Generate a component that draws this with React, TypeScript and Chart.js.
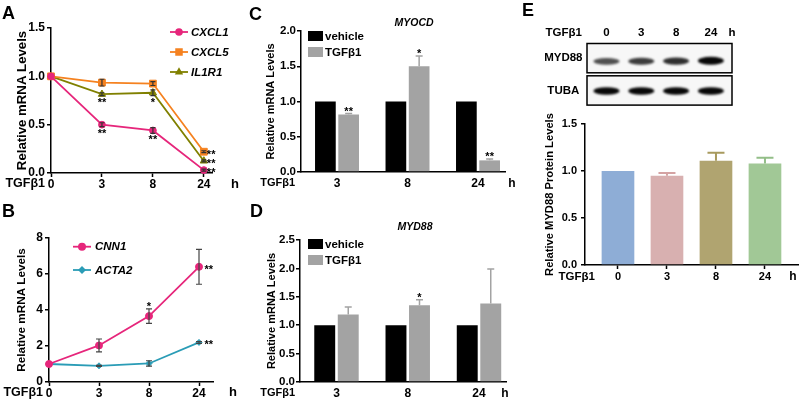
import React, { useEffect, useRef } from 'react';
import { Chart, registerables } from 'chart.js';

Chart.register(...registerables);

const FAMILY = '"Liberation Sans", Arial, Helvetica, sans-serif';
Chart.defaults.font.family = FAMILY;
Chart.defaults.color = '#000';

// ---------------- data ----------------
const timeLabels = ['0', '3', '8', '24'];
const treatLabels = ['3', '8', '24'];

// Panel A
const cxcl1 = [1.0, 0.5, 0.44, 0.03];
const cxcl1Err = [0, 0.02, 0.03, 0.01];
const cxcl1Sig = ['', '**', '**', '**'];
const cxcl5 = [1.0, 0.935, 0.925, 0.22];
const cxcl5Err = [0, 0.035, 0.02, 0.01];
const cxcl5Sig = ['', '', '', '**'];
const il1r1 = [1.0, 0.815, 0.83, 0.125];
const il1r1Err = [0, 0.015, 0.03, 0.01];
const il1r1Sig = ['', '**', '*', '**'];

// Panel B
const cnn1 = [1.0, 2.03, 3.66, 6.4];
const cnn1Err = [0, 0.36, 0.4, 0.97];
const cnn1Sig = ['', '', '*', '**'];
const acta2 = [1.0, 0.9, 1.03, 2.2];
const acta2Err = [0, 0.03, 0.15, 0.05];
const acta2Sig = ['', '', '', '**'];

// Panel C
const myocdVehicle = [1, 1, 1];
const myocdTgf = [0.815, 1.5, 0.165];
const myocdTgfErr = [0.015, 0.145, 0.02];
const myocdSig = ['**', '*', '**'];

// Panel D
const myd88Vehicle = [1, 1, 1];
const myd88Tgf = [1.19, 1.35, 1.38];
const myd88TgfErr = [0.13, 0.1, 0.61];
const myd88Sig = ['', '*', ''];

// Panel E
const blotRows = ['MYD88', 'TUBA'];
const myd88BandIntensity = [0.7, 0.78, 0.84, 1.0];
const tubaBandIntensity = [1.0, 1.0, 1.0, 1.0];
const proteinLevels = [1.0, 0.95, 1.11, 1.08];
const proteinErr = [0, 0.03, 0.085, 0.06];

// ---------------- styles ----------------
const PINK = '#E6267B';
const ORANGE = '#F58220';
const OLIVE = '#808000';
const TEAL = '#2A9CB6';
const GREY = '#A3A3A3';
const E_COLORS = ['#8EADD6', '#D8B0B0', '#B0A470', '#A1C896'];
const E_ERR_COLORS = ['#8EADD6', '#D4A3A3', '#A89A5E', '#93BE88'];

const font = (size: number, italic = false) => ({
  family: FAMILY,
  size,
  weight: 'bold' as const,
  style: (italic ? 'italic' : 'normal') as any,
});
const cssFont = (size: number, italic = false) => `${italic ? 'italic ' : ''}bold ${size}px ${FAMILY}`;

function yAxis(o: any) {
  return {
    min: o.min,
    max: o.max,
    ticks: {
      stepSize: o.step,
      callback: (v: number) => Number(v).toFixed(o.dec),
      font: font(o.tickSize),
      padding: o.tickPad,
      color: '#000',
    },
    grid: {
      display: true,
      drawOnChartArea: false,
      drawTicks: true,
      tickLength: 4,
      tickWidth: 1.5,
      tickColor: '#000',
      color: '#000',
      lineWidth: 1.5,
    },
    border: { display: true, color: '#000', width: 1.5 },
    title: {
      display: true,
      text: o.title,
      font: font(o.titleSize),
      color: '#000',
      padding: { top: o.titleCenter - (o.titleSize * 1.2) / 2, bottom: 0 },
    },
    afterFit: (s: any) => {
      s.width = o.width;
    },
  };
}

function xAxis(labels: string[], min: number, max: number, height: number, tickLen: number, pad: number, size: number) {
  return {
    type: 'linear',
    min,
    max,
    bounds: 'data',
    offset: false,
    afterBuildTicks: (s: any) => {
      s.ticks = labels.map((_, i) => ({ value: i }));
    },
    ticks: {
      callback: (v: number) => labels[Math.round(v)] ?? '',
      font: font(size),
      padding: pad,
      maxRotation: 0,
      autoSkip: false,
      color: '#000',
    },
    grid: {
      display: tickLen > 0,
      offset: false,
      drawOnChartArea: false,
      drawTicks: tickLen > 0,
      tickLength: tickLen,
      tickColor: '#000',
      tickWidth: 1.5,
      color: '#000',
    },
    border: { display: true, color: '#000', width: 1.5 },
    afterFit: (s: any) => {
      s.height = height;
    },
  };
}

function drawMarker(ctx: CanvasRenderingContext2D, style: string, x: number, y: number, r: number, color: string) {
  ctx.save();
  ctx.fillStyle = color;
  ctx.beginPath();
  if (style === 'circle') ctx.arc(x, y, r, 0, Math.PI * 2);
  else if (style === 'rect') {
    const s = r * Math.SQRT1_2;
    ctx.rect(x - s, y - s, 2 * s, 2 * s);
  } else if (style === 'triangle') {
    ctx.moveTo(x, y - r);
    ctx.lineTo(x + r * 0.866, y + r * 0.5);
    ctx.lineTo(x - r * 0.866, y + r * 0.5);
    ctx.closePath();
  } else {
    ctx.moveTo(x, y - r);
    ctx.lineTo(x + r, y);
    ctx.lineTo(x, y + r);
    ctx.lineTo(x - r, y);
    ctx.closePath();
  }
  ctx.fill();
  ctx.restore();
}

function errorBars(errs: (number[] | null)[], color: string | string[], cap: number, width: number, upOnly: boolean) {
  return {
    id: 'errorBars',
    afterDatasetsDraw(chart: any) {
      const ctx = chart.ctx;
      const ys = chart.scales.y;
      chart.data.datasets.forEach((ds: any, di: number) => {
        const e = errs[di];
        if (!e) return;
        const meta = chart.getDatasetMeta(di);
        meta.data.forEach((el: any, j: number) => {
          const err = e[j];
          if (!err) return;
          const v = ds.data[j].y;
          const x = el.x;
          const top = ys.getPixelForValue(v + err);
          const bot = upOnly ? ys.getPixelForValue(v) : ys.getPixelForValue(v - err);
          ctx.save();
          ctx.strokeStyle = Array.isArray(color) ? color[j] : color;
          ctx.lineWidth = width;
          ctx.beginPath();
          ctx.moveTo(x, top);
          ctx.lineTo(x, bot);
          ctx.moveTo(x - cap / 2, top);
          ctx.lineTo(x + cap / 2, top);
          if (!upOnly) {
            ctx.moveTo(x - cap / 2, bot);
            ctx.lineTo(x + cap / 2, bot);
          }
          ctx.stroke();
          ctx.restore();
        });
      });
    },
  };
}

function sigMarks(
  sigs: (string[] | null)[],
  errs: (number[] | null)[],
  place: (j: number, n: number) => string,
  size: number,
  rightDx: number
) {
  return {
    id: 'sigMarks',
    afterDatasetsDraw(chart: any) {
      const ctx = chart.ctx;
      const ys = chart.scales.y;
      chart.data.datasets.forEach((ds: any, di: number) => {
        const s = sigs[di];
        if (!s) return;
        const meta = chart.getDatasetMeta(di);
        meta.data.forEach((el: any, j: number) => {
          const txt = s[j];
          if (!txt) return;
          const v = ds.data[j].y;
          const e = (errs[di] && errs[di]![j]) || 0;
          const p = place(j, meta.data.length);
          ctx.save();
          ctx.font = cssFont(size);
          ctx.fillStyle = '#000';
          ctx.textBaseline = 'middle';
          if (p === 'right') {
            ctx.textAlign = 'left';
            ctx.fillText(txt, el.x + rightDx, el.y + 3);
          } else if (p === 'below') {
            ctx.textAlign = 'center';
            ctx.fillText(txt, el.x, ys.getPixelForValue(v - e) + 7);
          } else {
            ctx.textAlign = 'center';
            ctx.fillText(txt, el.x, ys.getPixelForValue(v + e) - 2);
          }
          ctx.restore();
        });
      });
    },
  };
}

function axisWords(leftText: string, leftSize: number, leftDx: number, rightText: string, rightSize: number, rightDx: number, dy: number) {
  return {
    id: 'axisWords',
    afterDraw(chart: any) {
      const { ctx, chartArea } = chart;
      ctx.save();
      ctx.fillStyle = '#000';
      ctx.textBaseline = 'middle';
      ctx.font = cssFont(leftSize);
      ctx.textAlign = 'right';
      ctx.fillText(leftText, chartArea.left + leftDx, chartArea.bottom + dy);
      ctx.font = cssFont(rightSize);
      ctx.textAlign = 'center';
      ctx.fillText(rightText, chartArea.right + rightDx, chartArea.bottom + dy);
      ctx.restore();
    },
  };
}

function lineLegend(x1: number, x2: number, tx: number, ys: number[], size: number, radii: number[]) {
  return {
    id: 'lineLegend',
    afterDraw(chart: any) {
      const ctx = chart.ctx;
      chart.data.datasets.forEach((ds: any, i: number) => {
        const y = ys[i];
        ctx.save();
        ctx.strokeStyle = ds.borderColor;
        ctx.lineWidth = 1.8;
        ctx.beginPath();
        ctx.moveTo(x1, y);
        ctx.lineTo(x2, y);
        ctx.stroke();
        drawMarker(ctx, ds.pointStyle, (x1 + x2) / 2, y, radii[i], ds.borderColor);
        ctx.fillStyle = '#000';
        ctx.font = cssFont(size, true);
        ctx.textAlign = 'left';
        ctx.textBaseline = 'middle';
        ctx.fillText(ds.label, tx, y + 0.5);
        ctx.restore();
      });
    },
  };
}

function boxLegend(bx: number, bw: number, bh: number, tx: number, ys: number[], size: number) {
  return {
    id: 'boxLegend',
    afterDraw(chart: any) {
      const ctx = chart.ctx;
      chart.data.datasets.forEach((ds: any, i: number) => {
        const y = ys[i];
        ctx.save();
        ctx.fillStyle = ds.backgroundColor;
        ctx.fillRect(bx, y - bh / 2, bw, bh);
        ctx.fillStyle = '#000';
        ctx.font = cssFont(size);
        ctx.textAlign = 'left';
        ctx.textBaseline = 'middle';
        ctx.fillText(ds.label, tx, y + 0.5);
        ctx.restore();
      });
    },
  };
}

function titleText(text: string, x: number, y: number, size: number) {
  return {
    id: 'titleText',
    afterDraw(chart: any) {
      const ctx = chart.ctx;
      ctx.save();
      ctx.fillStyle = '#000';
      ctx.font = cssFont(size, true);
      ctx.textAlign = 'center';
      ctx.textBaseline = 'middle';
      ctx.fillText(text, x, y);
      ctx.restore();
    },
  };
}

const lineDs = (label: string, vals: number[], color: string, pointStyle: string, radius: number) => ({
  label,
  data: vals.map((v, i) => ({ x: i, y: v })),
  borderColor: color,
  backgroundColor: color,
  pointBackgroundColor: color,
  pointBorderColor: color,
  pointStyle,
  pointRadius: radius,
  pointBorderWidth: 1,
  borderWidth: 1.8,
  tension: 0,
  clip: false,
});

const barDs = (label: string, vals: number[], color: any) => ({
  label,
  data: vals.map((v, i) => ({ x: i, y: v })),
  backgroundColor: color,
  borderWidth: 0,
});

const baseOpts = (padding: any) => ({
  responsive: false,
  animation: false,
  events: [],
  layout: { padding },
  plugins: { legend: { display: false }, tooltip: { enabled: false }, title: { display: false } },
});

function configA(): any {
  const errs = [cxcl1Err, cxcl5Err, il1r1Err];
  const sigs = [cxcl1Sig, cxcl5Sig, il1r1Sig];
  return {
    type: 'line',
    data: {
      datasets: [
        lineDs('CXCL1', cxcl1, PINK, 'circle', 3.4),
        lineDs('CXCL5', cxcl5, ORANGE, 'rect', 4.8),
        lineDs('IL1R1', il1r1, OLIVE, 'triangle', 4.2),
      ],
    },
    options: {
      ...baseOpts({ top: 28, right: 48, bottom: 0, left: 0 }),
      scales: {
        x: xAxis(timeLabels, 0, 3.16, 27, 4, 0, 12),
        y: yAxis({ min: 0, max: 1.5, step: 0.5, dec: 1, width: 51, title: 'Relative mRNA Levels', titleSize: 13.2, titleCenter: 22, tickSize: 12, tickPad: 2 }),
      },
    },
    plugins: [
      errorBars(errs, '#333', 5, 1.2, false),
      sigMarks(sigs, errs, (j, n) => (j === n - 1 ? 'right' : 'below'), 11, 3),
      axisWords('TGFβ1', 12.5, -6, 'h', 13, 23, 11),
      lineLegend(170, 188, 191, [32, 52, 72], 11.5, [3.8, 5.3, 4.8]),
    ],
  };
}

function configB(): any {
  const errs = [cnn1Err, acta2Err];
  const sigs = [cnn1Sig, acta2Sig];
  return {
    type: 'line',
    data: {
      datasets: [lineDs('CNN1', cnn1, PINK, 'circle', 3.5), lineDs('ACTA2', acta2, TEAL, 'rectRot', 3)],
    },
    options: {
      ...baseOpts({ top: 38, right: 47, bottom: 0, left: 0 }),
      scales: {
        x: xAxis(timeLabels, 0, 3.28, 18, 4, 0, 12),
        y: yAxis({ min: 0, max: 8, step: 2, dec: 0, width: 49, title: 'Relative mRNA Levels', titleSize: 11.7, titleCenter: 22, tickSize: 12, tickPad: 2 }),
      },
    },
    plugins: [
      errorBars(errs, '#444', 6, 1.2, false),
      sigMarks(sigs, errs, (j, n) => (j === n - 1 ? 'right' : 'above'), 11, 5.5),
      axisWords('TGFβ1', 12.5, -6, 'h', 13, 20, 10.5),
      lineLegend(73, 91, 95, [46.7, 70], 11.5, [4, 4]),
    ],
  };
}

function configC(): any {
  return {
    type: 'bar',
    data: { datasets: [barDs('vehicle', myocdVehicle, '#000'), barDs('TGFβ1', myocdTgf, GREY)] },
    options: {
      ...baseOpts({ top: 31, right: 25, bottom: 0, left: 0 }),
      datasets: { bar: { categoryPercentage: 0.66, barPercentage: 0.89 } },
      scales: {
        x: xAxis(treatLabels, -0.511, 2.383, 28, 0, 4, 12),
        y: yAxis({ min: 0, max: 2, step: 0.5, dec: 1, width: 41, title: 'Relative mRNA Levels', titleSize: 11, titleCenter: 11, tickSize: 11.5, tickPad: 1 }),
      },
    },
    plugins: [
      errorBars([null, myocdTgfErr], GREY, 7, 1.5, true),
      sigMarks([null, myocdSig], [null, myocdTgfErr], () => 'above', 11, 3),
      axisWords('TGFβ1', 11, -6, 'h', 12, 7, 11.2),
      boxLegend(48, 15, 10, 65, [36, 52], 11.5),
      titleText('MYOCD', 154, 23, 10.5),
    ],
  };
}

function configD(): any {
  return {
    type: 'bar',
    data: { datasets: [barDs('vehicle', myd88Vehicle, '#000'), barDs('TGFβ1', myd88Tgf, GREY)] },
    options: {
      ...baseOpts({ top: 40, right: 24, bottom: 0, left: 0 }),
      datasets: { bar: { categoryPercentage: 0.66, barPercentage: 0.89 } },
      scales: {
        x: xAxis(treatLabels, -0.512, 2.379, 18, 0, 4, 12),
        y: yAxis({ min: 0, max: 2.5, step: 0.5, dec: 1, width: 40, title: 'Relative mRNA Levels', titleSize: 11, titleCenter: 11.5, tickSize: 11.5, tickPad: 1 }),
      },
    },
    plugins: [
      errorBars([null, myd88TgfErr], GREY, 7, 1.5, true),
      sigMarks([null, myd88Sig], [null, myd88TgfErr], () => 'above', 11, 3),
      axisWords('TGFβ1', 11, -5, 'h', 12, -1, 11.2),
      boxLegend(48, 15, 10, 65, [44, 60], 11.5),
      titleText('MYD88', 155, 27, 10.5),
    ],
  };
}

function configE(): any {
  return {
    type: 'bar',
    data: { datasets: [barDs('MYD88', proteinLevels, E_COLORS)] },
    options: {
      ...baseOpts({ top: 14, right: 2, bottom: 0, left: 0 }),
      datasets: { bar: { categoryPercentage: 0.667, barPercentage: 1 } },
      scales: {
        x: xAxis(timeLabels, -0.673, 3.674, 25, 4, 1, 11),
        y: yAxis({ min: 0, max: 1.5, step: 0.5, dec: 1, width: 55, title: 'Relative MYD88 Protein Levels', titleSize: 11.2, titleCenter: 20, tickSize: 11, tickPad: 4 }),
      },
    },
    plugins: [
      errorBars([proteinErr], E_ERR_COLORS, 17, 2, true),
      axisWords('TGFβ1', 11.5, 10, 'h', 12, -5, 11.6),
    ],
  };
}

function blotPlugin() {
  return {
    id: 'blot',
    afterDraw(chart: any) {
      const { ctx, chartArea } = chart;
      const xs = chart.scales.x;
      const ys = chart.scales.y;
      const rows = [myd88BandIntensity, tubaBandIntensity];
      const left = chartArea.left;
      const right = chartArea.right;
      const gap = Math.abs(ys.getPixelForValue(1) - ys.getPixelForValue(0));
      rows.forEach((vals, r) => {
        const yc = ys.getPixelForValue(r);
        const top = yc - gap / 2 + 1.5;
        const bottom = yc + gap / 2 - 1.5;
        ctx.save();
        ctx.fillStyle = '#f7f7f7';
        ctx.fillRect(left, top, right - left, bottom - top);
        ctx.beginPath();
        ctx.rect(left, top, right - left, bottom - top);
        ctx.clip();
        vals.forEach((v, j) => {
          const xc = xs.getPixelForValue(j);
          ctx.save();
          ctx.filter = 'blur(1.2px)';
          ctx.fillStyle = `rgba(8,8,8,${v})`;
          const bh = r === 0 ? 2 + 2 * v : 3.8;
          const by = r === 0 ? yc + 3.2 - 2 * (v - 0.7) : yc + 0.5;
          ctx.beginPath();
          ctx.ellipse(xc, by, 13, bh, 0, 0, Math.PI * 2);
          ctx.fill();
          ctx.restore();
        });
        ctx.restore();
        ctx.save();
        ctx.strokeStyle = '#000';
        ctx.lineWidth = 1.5;
        ctx.strokeRect(left, top, right - left, bottom - top);
        ctx.restore();
      });
      ctx.save();
      ctx.fillStyle = '#000';
      ctx.font = cssFont(11.5);
      ctx.textBaseline = 'middle';
      ctx.textAlign = 'right';
      ctx.fillText('TGFβ1', left - 5, 33);
      ctx.textAlign = 'center';
      ctx.fillText('h', right, 33);
      ctx.restore();
    },
  };
}

function configBlot(): any {
  return {
    type: 'scatter',
    data: { datasets: [] },
    options: {
      ...baseOpts({ top: 0, right: 68, bottom: 4, left: 0 }),
      scales: {
        x: {
          type: 'linear',
          position: 'top',
          min: -0.56,
          max: 3.607,
          bounds: 'data',
          afterBuildTicks: (s: any) => {
            s.ticks = timeLabels.map((_, i) => ({ value: i }));
          },
          ticks: {
            callback: (v: number) => timeLabels[Math.round(v)] ?? '',
            font: font(11.5),
            padding: 2,
            maxRotation: 0,
            autoSkip: false,
            color: '#000',
          },
          grid: { display: false, drawTicks: false },
          border: { display: false },
          afterFit: (s: any) => {
            s.height = 42;
          },
        },
        y: {
          type: 'category',
          labels: blotRows,
          offset: true,
          ticks: { font: font(11.5), crossAlign: 'center', padding: 4.5, color: '#000' },
          grid: { display: false, drawTicks: false },
          border: { display: false },
          afterFit: (s: any) => {
            s.width = 57;
          },
        },
      },
    },
    plugins: [blotPlugin()],
  };
}

function ChartCanvas({ x, y, w, h, make }: { x: number; y: number; w: number; h: number; make: () => any }) {
  const ref = useRef<HTMLCanvasElement | null>(null);
  useEffect(() => {
    if (!ref.current) return;
    const chart = new Chart(ref.current, make());
    return () => chart.destroy();
  }, []);
  return (
    <canvas
      ref={ref}
      width={w}
      height={h}
      style={{ position: 'absolute', left: x, top: y, width: w, height: h }}
    />
  );
}

const letterStyle = (left: number, top: number): React.CSSProperties => ({
  position: 'absolute',
  left,
  top,
  fontFamily: FAMILY,
  fontWeight: 'bold',
  fontSize: 18,
  lineHeight: '18px',
  color: '#000',
});

export default function App() {
  return (
    <div
      style={{
        position: 'absolute',
        left: 0,
        top: 0,
        width: 800,
        height: 400,
        background: '#fff',
        overflow: 'hidden',
      }}
    >
      <ChartCanvas x={0} y={0} w={260} h={200} make={configA} />
      <ChartCanvas x={0} y={200} w={260} h={200} make={configB} />
      <ChartCanvas x={260} y={0} w={270} h={200} make={configC} />
      <ChartCanvas x={260} y={200} w={270} h={200} make={configD} />
      <ChartCanvas x={530} y={0} w={270} h={118} make={configBlot} />
      <ChartCanvas x={530} y={110} w={270} h={180} make={configE} />
      <div style={letterStyle(2, 4)}>A</div>
      <div style={letterStyle(2, 202)}>B</div>
      <div style={letterStyle(249, 5)}>C</div>
      <div style={letterStyle(250, 202)}>D</div>
      <div style={letterStyle(522, 1)}>E</div>
    </div>
  );
}
